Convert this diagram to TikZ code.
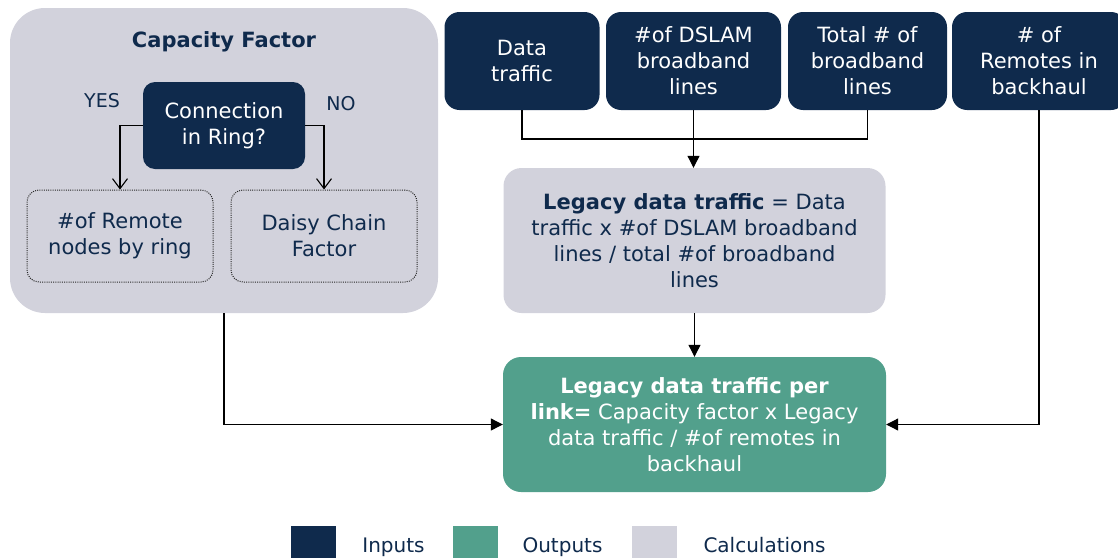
\documentclass[tikz,border=0pt]{standalone}
\usepackage{fontspec}
\setmainfont{DejaVu Sans}
\usetikzlibrary{arrows.meta}
\definecolor{navy}{HTML}{0F2A4C}
\definecolor{calcgrey}{HTML}{D2D2DC}
\definecolor{outteal}{HTML}{52A08C}
\begin{document}
\begin{tikzpicture}[x=1pt,y=-1pt,
  txt/.style={font=\fontsize{21}{26}\selectfont, align=center},
  inbox/.style={txt, fill=navy, text=white, rounded corners=15pt, inner sep=0pt, minimum height=98pt},
  calcbox/.style={txt, fill=calcgrey, text=navy, rounded corners=18pt, inner sep=0pt},
  outbox/.style={txt, fill=outteal, text=white, rounded corners=18pt, inner sep=0pt},
  dotbox/.style={txt, draw=black!85, dash pattern=on 1pt off 1.2pt, text=navy, rounded corners=12pt, inner sep=0pt, line width=1pt, minimum width=186pt, minimum height=92pt},
  conn/.style={line width=1.1pt, draw=black},
  arr/.style={conn, -{Triangle[length=12pt,width=12pt]}},
  varr/.style={conn, -{Straight Barb[length=10pt,width=15pt]}},
  legsq/.style={minimum width=45pt, minimum height=36pt, inner sep=0pt},
  legtxt/.style={font=\fontsize{20}{24}\selectfont, text=navy, anchor=base},
]
\useasboundingbox (0,0) rectangle (1118,557);

% Capacity factor group
\node[calcbox, rounded corners=35pt, minimum width=428pt, minimum height=305pt] (cap) at (224,160.5) {};
\node[txt, font=\fontsize{21}{26}\selectfont\bfseries, text=navy] (captitle) at (224,42) {Capacity Factor};
\node[inbox, minimum width=162pt, minimum height=87pt, rounded corners=12pt] (ring) at (224,125.5) {Connection\\in Ring?};
\node[txt, text=navy, font=\fontsize{19}{23}\selectfont] (yes) at (102,101) {YES};
\node[txt, text=navy, font=\fontsize{19}{23}\selectfont] (no) at (341,104) {NO};
\node[dotbox] (rem) at (120,236) {\#of Remote\\nodes by ring};
\node[dotbox] (daisy) at (324,236) {Daisy Chain\\Factor};
\draw[varr] (ring.west) -| (rem.north);
\draw[varr] (ring.east) -| (daisy.north);

% Inputs
\node[inbox, minimum width=155pt] (data) at (522,61) {Data\\traffic};
\node[inbox, minimum width=175pt] (dslam) at (693.5,61) {\#of DSLAM\\broadband\\lines};
\node[inbox, minimum width=159pt] (total) at (867.5,61) {Total \# of\\broadband\\lines};
\node[inbox, minimum width=174pt] (remotes) at (1039,61) {\# of\\Remotes in\\backhaul};

% Calculation
\node[calcbox, minimum width=382pt, minimum height=145pt] (legacy) at (694.5,240.5) {\textbf{Legacy data traffic} = Data\\traffic x \#of DSLAM broadband\\lines / total \#of broadband\\lines};

% Output
\node[outbox, minimum width=383pt, minimum height=135pt] (out) at (694.5,424.5) {\textbf{Legacy data traffic per}\\\textbf{link=} Capacity factor x Legacy\\data traffic / \#of remotes in\\backhaul};

% Connectors
\coordinate (join) at (693.5,139);
\draw[conn] (data.south) |- (join) -| (total.south);
\draw[arr] (dslam.south) -- (dslam.south |- legacy.north);
\draw[arr] (legacy.south) -- (out.north);
\draw[arr] (cap.south) |- (out.west);
\draw[arr] (remotes.south) |- (out.east);

% Legend
\node[legsq, fill=navy] (lin) at (313.5,544) {};
\node[legtxt] (linl) at (393.5,552) {Inputs};
\node[legsq, fill=outteal] (lout) at (475.5,544) {};
\node[legtxt] (loutl) at (562.5,552) {Outputs};
\node[legsq, fill=calcgrey] (lcalc) at (654.5,544) {};
\node[legtxt] (lcalcl) at (764.5,552) {Calculations};
\end{tikzpicture}
\end{document}
